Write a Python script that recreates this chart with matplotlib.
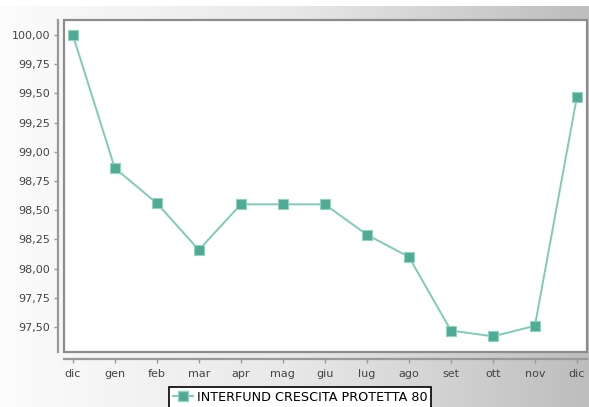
import numpy as np
import matplotlib
matplotlib.use("Agg")
import matplotlib.pyplot as plt
from matplotlib.patches import Rectangle
from matplotlib.colors import LinearSegmentedColormap
from matplotlib.lines import Line2D

# ---- data ----
months = ["dic", "gen", "feb", "mar", "apr", "mag", "giu", "lug", "ago", "set", "ott", "nov", "dic"]
values = [100.00, 98.86, 98.56, 98.16, 98.55, 98.55, 98.55, 98.29, 98.10, 97.47, 97.42, 97.51, 99.47]
series_name = "INTERFUND CRESCITA PROTETTA 80"
yticks = [97.50, 97.75, 98.00, 98.25, 98.50, 98.75, 99.00, 99.25, 99.50, 99.75, 100.00]
ytick_labels = ["97,50", "97,75", "98,00", "98,25", "98,50", "98,75", "99,00", "99,25", "99,50", "99,75", "100,00"]

W, H = 589, 407
fig = plt.figure(figsize=(W / 100, H / 100), dpi=100)
fig.patch.set_facecolor("white")

# background gradient
bg = fig.add_axes([0, 0, 1, 1 - 6 / H], zorder=-10)
cmap = LinearSegmentedColormap.from_list("g", ["#fcfcfc", "#e8e8e8", "#bdbdbd"])
grad = np.linspace(0, 1, 256).reshape(1, -1)
bg.imshow(grad, aspect="auto", cmap=cmap, extent=[0, 1, 0, 1])
bg.set_axis_off()

left, right, top, bottom = 64, 587, 20, 352
ax = fig.add_axes([left / W, 1 - bottom / H, (right - left) / W, (bottom - top) / H])
ax.set_facecolor("white")

x = np.arange(len(months))
ax.plot(x, values, color="#7fcbb6", lw=1.4, zorder=3)
ax.plot(x, values, ls="none", marker="s", ms=7.5, mfc="#4fab94", mec="#8fd3c0", mew=0.8,
        zorder=4, label=series_name)

ax.set_xlim(-0.21, len(months) - 1 + 0.24)
ax.set_ylim(97.286, 100.128)
ax.set_xticks(x)
ax.set_xticklabels(months)
ax.set_yticks(yticks)
ax.set_yticklabels(ytick_labels)

for s in ["top", "right"]:
    ax.spines[s].set_visible(False)
ax.spines["left"].set_position(("outward", 4))
ax.spines["bottom"].set_position(("outward", 5))
ax.spines["left"].set_color("#999999")
ax.spines["bottom"].set_color("#999999")
ax.spines["left"].set_linewidth(1.6)
ax.spines["bottom"].set_linewidth(1.6)

frame = Rectangle((0, 0), 1, 1, transform=ax.transAxes, fill=False,
                  edgecolor="#8c8c8c", lw=1.6, zorder=5, clip_on=False)
ax.add_patch(frame)

ax.tick_params(axis="both", colors="#999999", labelcolor="#444444", labelsize=8, length=3, width=1)
ax.tick_params(axis="x", pad=4)
ax.tick_params(axis="y", pad=3)

# legend
handle = Line2D([], [], color="#7fcbb6", lw=1.4, marker="s", ms=7.5, mfc="#4fab94", mec="#8fd3c0")
leg = fig.legend([handle], [series_name], loc="upper center",
                 bbox_to_anchor=(300 / W, 1 - 387 / H), frameon=True, fancybox=False,
                 fontsize=9.2, handlelength=1.6, handletextpad=0.3, borderpad=0.3,
                 borderaxespad=0)
leg.get_frame().set_edgecolor("black")
leg.get_frame().set_linewidth(1.2)
leg.get_frame().set_facecolor("white")
leg.get_frame().set_alpha(1)

fig.savefig("out.png", dpi=100)
